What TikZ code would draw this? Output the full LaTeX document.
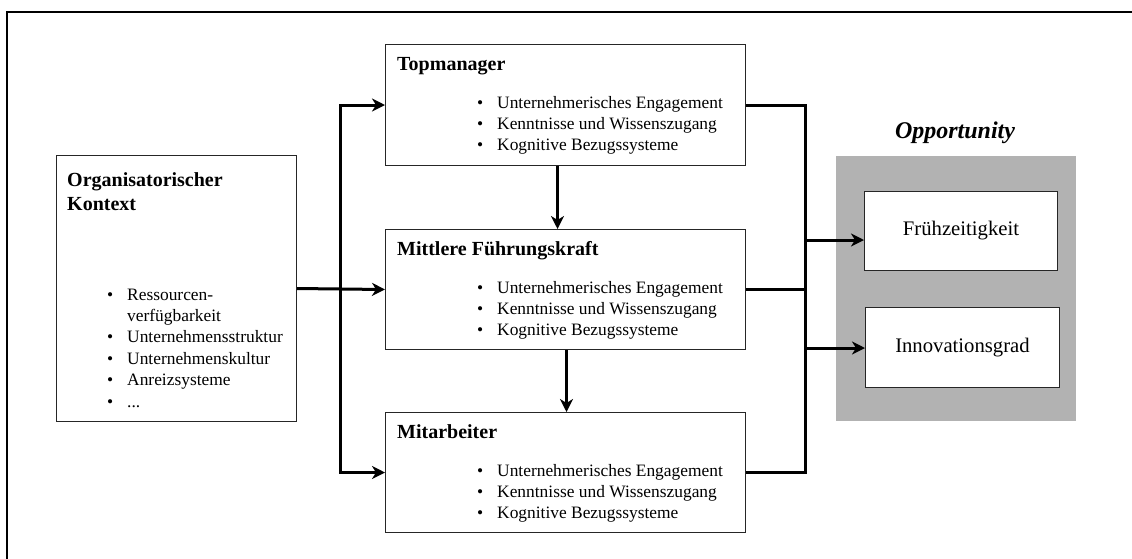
\documentclass[tikz,border=0pt]{standalone}
\usepackage{fontspec}
\setmainfont{Liberation Serif}
\usetikzlibrary{arrows.meta}
\definecolor{oppgray}{RGB}{178,178,178}
\newcommand{\itm}{\makebox[20pt][l]{\textbullet}}
\begin{document}
\begin{tikzpicture}[x=1pt,y=-1pt,
  box/.style={draw=black!85, line width=1pt, fill=white, inner sep=0pt, anchor=north west},
  conn/.style={line width=3pt},
  arr/.style={conn, -{Stealth[length=13pt,width=13pt,inset=4pt]}},
  ttl/.style={anchor=base west, inner sep=0pt, font=\fontsize{20}{24}\selectfont\bfseries},
  lst/.style={anchor=base west, inner sep=0pt, font=\fontsize{17.4}{21.4}\selectfont},
  lbl/.style={font=\fontsize{20.7}{24}\selectfont},
]
\useasboundingbox (0,0) rectangle (1132,558);
% outer frame
\draw[line width=2pt] (7,575) -- (7,12) -- (1145,12);

% organisational context
\node[box, minimum width=240pt, minimum height=266pt] (ctx) at (56,155) {};
\node[ttl] (ctxttl) at (67,186) {\begin{tabular}[t]{@{}l@{}}Organisatorischer\\Kontext\end{tabular}};
\node[lst] (ctxlst) at (107,300) {\begin{tabular}[t]{@{}l@{}}
  \itm Ressourcen-\\
  \hspace*{20pt}verfügbarkeit\\
  \itm Unternehmensstruktur\\
  \itm Unternehmenskultur\\
  \itm Anreizsysteme\\
  \itm ...\end{tabular}};

% three levels of the organisation
\node[box, minimum width=360pt, minimum height=121pt] (top) at (385,44) {};
\node[box, minimum width=360pt, minimum height=120pt] (mid) at (385,229) {};
\node[box, minimum width=360pt, minimum height=120pt] (bot) at (385,412) {};

\node[ttl] (topttl) at (397,70) {Topmanager};
\node[ttl] (midttl) at (397,255) {Mittlere Führungskraft};
\node[ttl] (botttl) at (397,438) {Mitarbeiter};

\newcommand{\levellist}{\begin{tabular}[t]{@{}l@{}}
  \itm Unternehmerisches Engagement\\
  \itm Kenntnisse und Wissenszugang\\
  \itm Kognitive Bezugssysteme\end{tabular}}
\node[lst] (toplst) at (477,108) {\levellist};
\node[lst] (midlst) at (477,293) {\levellist};
\node[lst] (botlst) at (477,476) {\levellist};

% opportunity panel
\node[box, draw=none, fill=oppgray, minimum width=240pt, minimum height=265pt] (opp) at (835,155) {};
\node[anchor=base, inner sep=0pt, font=\fontsize{24}{28}\selectfont\bfseries\itshape] (oppttl) at (955,138) {Opportunity};
\node[box, lbl, minimum width=193pt, minimum height=79pt] (fruh) at (864,191) {Frühzeitigkeit};
\node[box, lbl, minimum width=194pt, minimum height=80pt] (inno) at (865,307) {Innovationsgrad};

% connectors on the left
\coordinate (rl) at (340,0);
\draw[arr] (rl |- ctx.east) |- (top.west);
\draw[arr] (rl |- ctx.east) |- (bot.west);
\draw[arr] (ctx.east) -- (mid.west);

% top-down arrows
\draw[arr] ([xshift=-8pt]top.south) -- ([xshift=-8pt]top.south |- mid.north);
\draw[arr] ([xshift=1pt]mid.south) -- ([xshift=1pt]mid.south |- bot.north);

% connectors on the right
\coordinate (rr) at (805,0);
\draw[conn] (top.east) -| (rr |- mid.east);
\draw[conn] (bot.east) -| (rr |- mid.east);
\draw[conn] (mid.east) -- (rr |- mid.east);
\coordinate (fin) at (805,240);
\coordinate (iin) at (805,348);
\draw[arr] (fin) -- (fin -| fruh.west);
\draw[arr] (iin) -- (iin -| inno.west);
\end{tikzpicture}
\end{document}
